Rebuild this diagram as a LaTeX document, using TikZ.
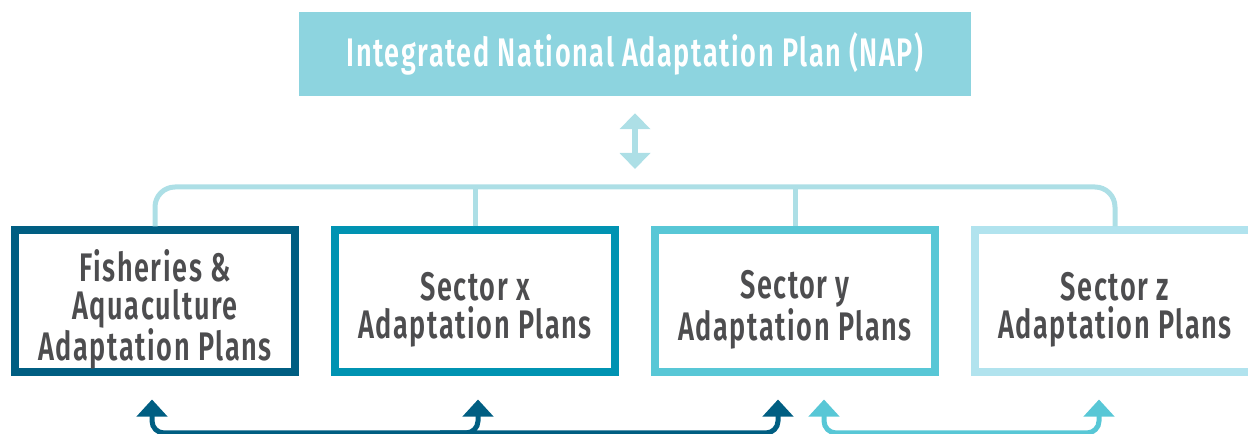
\documentclass[tikz,border=0pt]{standalone}
\usepackage{fontspec}
\setmainfont{Fira Sans SemiBold}[FakeStretch=0.68,LetterSpace=4]
\usetikzlibrary{arrows.meta}

\definecolor{napfill}{HTML}{8DD4DF}
\definecolor{linklight}{HTML}{ADDFE6}
\definecolor{sectdark}{HTML}{005E82}
\definecolor{sectmid}{HTML}{0093B2}
\definecolor{sectcyan}{HTML}{58C7D6}
\definecolor{sectpale}{HTML}{B1E3EE}
\definecolor{plantext}{HTML}{4D4D4F}

\newcommand\planfont{\fontsize{40}{38}\selectfont}

\tikzset{
  planbox/.style={draw=#1,line width=8bp,fill=white,minimum width=280bp,minimum height=142bp,inner sep=0pt},
  plantitle/.style={inner sep=0pt,align=center,text=plantext,font=\planfont,yshift=-8bp},
  uptip/.tip={Triangle[width=30bp,length=17bp]},
  midtip/.tip={Triangle[width=30bp,length=16bp]},
}

\begin{document}
\begin{tikzpicture}[x=1bp,y=1bp,yscale=-1]
\useasboundingbox (0,0) rectangle (1248,434);

% Top node
\node [fill=napfill,minimum width=672bp,minimum height=84bp,inner sep=0pt,text=white,font=\planfont] (nap) at (635,54) {Integrated National Adaptation Plan (NAP)};

% Sector nodes
\node [planbox=sectdark,label={[plantitle]center:{Fisheries \&\\Aquaculture\\Adaptation Plans}}] (fish) at (155,301.5) {};
\node [planbox=sectmid,label={[plantitle]center:{Sector x\\Adaptation Plans}}] (secx) at (475,301.5) {};
\node [planbox=sectcyan,label={[plantitle]center:{Sector y\\Adaptation Plans}}] (secy) at (795,301.5) {};
\node [planbox=sectpale,label={[plantitle]center:{Sector z\\Adaptation Plans}}] (secz) at (1115,301.5) {};

% Bracket
\coordinate (bar) at (635,187);
\draw [linklight,line width=5bp,rounded corners=20bp] (fish.north) |- (bar) -| (secz.north);
\draw [linklight,line width=5bp] (secx.north) -- (secx.north |- bar);
\draw [linklight,line width=5bp] (secy.north) -- (secy.north |- bar);

% Double arrow
\draw [linklight,line width=6bp,midtip-midtip] ([yshift=17bp]nap.south) -- ([yshift=-18bp]bar);

% Bottom arrows
\coordinate (dkline) at (440,433);
\coordinate (ltline) at (960,433);
\draw [sectdark,line width=5bp,rounded corners=12bp,uptip-uptip] ([xshift=-3bp,yshift=23bp]fish.south) |- (dkline) -| ([xshift=-17bp,yshift=23bp]secy.south);
\draw [sectdark,line width=5bp,rounded corners=12bp,-uptip] (dkline) -| ([xshift=3bp,yshift=23bp]secx.south);
\draw [sectcyan,line width=5bp,rounded corners=12bp,uptip-uptip] ([xshift=29bp,yshift=23bp]secy.south) |- (ltline) -| ([xshift=-16bp,yshift=23bp]secz.south);

\end{tikzpicture}
\end{document}
